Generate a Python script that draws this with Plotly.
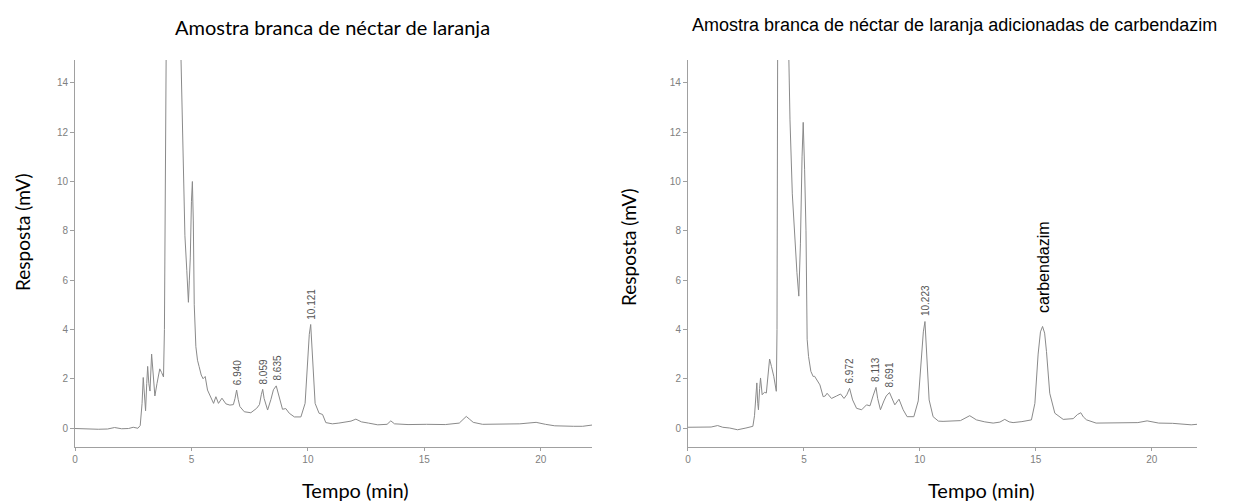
import plotly.graph_objects as go

# ---------------- data ----------------
# Left: blank orange nectar sample
t_blank = [0.0, 0.5, 1.0, 1.4, 1.7, 2.0, 2.3, 2.5, 2.7, 2.8,
           2.88, 2.93, 2.98, 3.03, 3.08, 3.12, 3.17, 3.22, 3.29, 3.36,
           3.43, 3.52, 3.64, 3.72, 3.80, 3.84, 3.88, 3.92, 4.20, 4.53,
           4.58, 4.64, 4.72, 4.80, 4.87, 4.91, 4.95, 5.00, 5.04, 5.08,
           5.12, 5.19, 5.26, 5.33, 5.42, 5.50, 5.59, 5.69, 5.84, 5.95,
           6.05, 6.16, 6.31, 6.48, 6.65, 6.80, 6.87, 6.94, 7.01, 7.08,
           7.27, 7.55, 7.80, 7.92, 8.00, 8.06, 8.12, 8.19, 8.27, 8.41,
           8.52, 8.64, 8.74, 8.91, 9.05, 9.20, 9.42, 9.70, 9.88, 9.98,
           10.06, 10.12, 10.20, 10.31, 10.48, 10.63, 10.77, 11.05, 11.33, 11.60,
           11.85, 12.06, 12.30, 12.60, 13.00, 13.40, 13.56, 13.72, 14.30, 15.10,
           15.90, 16.50, 16.65, 16.80, 16.95, 17.10, 17.50, 18.30, 19.10, 19.45,
           19.80, 20.20, 20.60, 21.40, 21.80, 22.20]
v_blank = [-0.02, -0.05, -0.05, -0.04, 0.02, -0.03, -0.02, 0.03, -0.01, 0.10,
           1.00, 2.05, 1.20, 0.70, 1.80, 2.50, 1.80, 1.50, 3.00, 2.00,
           1.30, 1.80, 2.40, 2.25, 2.07, 4.00, 9.00, 16.0, 30.0, 16.0,
           13.5, 10.5, 7.80, 6.40, 5.10, 6.00, 6.90, 9.20, 10.0, 8.40,
           5.00, 3.30, 2.75, 2.49, 2.15, 2.00, 2.09, 1.54, 1.21, 1.00,
           1.27, 1.00, 1.21, 0.98, 0.93, 0.95, 1.20, 1.54, 1.15, 0.87,
           0.66, 0.62, 0.80, 0.95, 1.35, 1.57, 1.20, 0.95, 0.73, 1.15,
           1.55, 1.71, 1.33, 0.76, 0.79, 0.60, 0.45, 0.45, 1.00, 2.63,
           3.80, 4.20, 2.90, 1.00, 0.60, 0.55, 0.22, 0.17, 0.20, 0.23,
           0.28, 0.36, 0.25, 0.20, 0.13, 0.15, 0.29, 0.17, 0.14, 0.15,
           0.14, 0.20, 0.33, 0.47, 0.35, 0.23, 0.15, 0.15, 0.17, 0.20,
           0.23, 0.15, 0.09, 0.07, 0.07, 0.12]

# Right: blank sample spiked with carbendazim
t_spiked = [0.0, 0.6, 1.0, 1.28, 1.5, 1.8, 2.14, 2.5, 2.8, 2.87,
            2.93, 2.97, 3.01, 3.04, 3.09, 3.13, 3.20, 3.30, 3.38, 3.45,
            3.52, 3.60, 3.70, 3.81, 3.84, 3.87, 4.10, 4.33, 4.40, 4.50,
            4.61, 4.70, 4.78, 4.85, 4.92, 4.97, 5.03, 5.09, 5.14, 5.20,
            5.30, 5.40, 5.46, 5.60, 5.69, 5.83, 5.92, 6.00, 6.19, 6.41,
            6.58, 6.73, 6.85, 6.97, 7.05, 7.10, 7.27, 7.49, 7.70, 7.85,
            7.98, 8.11, 8.18, 8.30, 8.45, 8.55, 8.69, 8.80, 8.92, 9.10,
            9.28, 9.45, 9.74, 9.93, 10.05, 10.15, 10.22, 10.30, 10.40, 10.57,
            10.80, 11.00, 11.40, 11.75, 12.15, 12.44, 12.80, 13.16, 13.45, 13.66,
            13.85, 14.02, 14.40, 14.81, 14.96, 15.10, 15.20, 15.29, 15.38, 15.46,
            15.60, 15.82, 16.18, 16.61, 16.80, 16.94, 17.05, 17.19, 17.60, 17.90,
            18.50, 19.00, 19.40, 19.80, 20.30, 20.90, 21.30, 21.70, 21.95]
v_spiked = [0.03, 0.03, 0.04, 0.10, 0.03, 0.00, -0.07, 0.00, 0.07, 0.50,
            1.50, 1.83, 1.00, 0.74, 1.60, 2.03, 1.35, 1.45, 1.42, 2.10,
            2.80, 2.50, 2.10, 1.49, 4.00, 16.0, 35.0, 16.0, 12.5, 9.50,
            7.60, 6.30, 5.35, 7.50, 11.0, 12.4, 10.5, 8.00, 3.60, 2.90,
            2.30, 2.09, 2.10, 1.90, 1.75, 1.27, 1.30, 1.41, 1.20, 1.30,
            1.38, 1.20, 1.35, 1.61, 1.30, 1.14, 0.80, 0.74, 0.94, 0.90,
            1.30, 1.65, 1.20, 0.74, 1.10, 1.30, 1.44, 1.20, 0.94, 1.17,
            0.74, 0.46, 0.46, 1.10, 2.63, 3.90, 4.32, 2.80, 1.14, 0.46,
            0.28, 0.27, 0.28, 0.30, 0.50, 0.33, 0.25, 0.20, 0.24, 0.35,
            0.25, 0.22, 0.26, 0.33, 1.00, 3.00, 3.90, 4.12, 3.85, 3.10,
            1.41, 0.60, 0.35, 0.38, 0.55, 0.62, 0.45, 0.33, 0.20, 0.20,
            0.20, 0.21, 0.22, 0.29, 0.20, 0.19, 0.17, 0.13, 0.15]

# peak labels (retention times) and the response at their apex
blank_peak_labels = ["6.940", "8.059", "8.635", "10.121"]
blank_peak_heights = [1.54, 1.57, 1.71, 4.20]
spiked_peak_labels = ["6.972", "8.113", "8.691", "10.223"]
spiked_peak_heights = [1.61, 1.65, 1.44, 4.32]
analyte_name = "carbendazim"
analyte_time = 15.29
analyte_height = 4.12

titles = ["Amostra branca de néctar de laranja",
          "Amostra branca de néctar de laranja adicionadas de carbendazim"]
x_title = "Tempo (min)"
y_title = "Resposta (mV)"
y_ticks = [0, 2, 4, 6, 8, 10, 12, 14]
x_ticks = [0, 5, 10, 15, 20]

assert len(t_blank) == len(v_blank)
assert len(t_spiked) == len(v_spiked)

# ---------------- figure ----------------
LINE = "#8a8a8a"
fig = go.Figure()
fig.add_trace(go.Scatter(x=t_blank, y=v_blank, mode="lines",
                         line=dict(color=LINE, width=1), xaxis="x", yaxis="y",
                         showlegend=False, hoverinfo="skip"))
fig.add_trace(go.Scatter(x=t_spiked, y=v_spiked, mode="lines",
                         line=dict(color=LINE, width=1), xaxis="x2", yaxis="y2",
                         showlegend=False, hoverinfo="skip"))

tickfont = dict(family="Liberation Sans, Arial, sans-serif", size=10, color="#808080")
axis_common = dict(showgrid=False, zeroline=False, showline=True, linecolor="#a0a0a0",
                   linewidth=1, ticks="outside", tickcolor="#a0a0a0", tickfont=tickfont)

fig.update_layout(
    width=1234, height=502,
    margin=dict(l=75, r=37, t=60, b=55),
    paper_bgcolor="white", plot_bgcolor="white",
    xaxis=dict(domain=[0, 0.4608], range=[0, 22.2], tickvals=x_ticks, ticklen=3,
               anchor="y", **axis_common),
    yaxis=dict(domain=[0, 1], range=[-0.77, 14.93], tickvals=y_ticks, ticklen=4,
               anchor="x", **axis_common),
    xaxis2=dict(domain=[0.5463, 1.0], range=[0, 21.95], tickvals=x_ticks, ticklen=3,
                anchor="y2", **axis_common),
    yaxis2=dict(domain=[0, 1], range=[-0.77, 14.93], tickvals=y_ticks, ticklen=4,
                anchor="x2", **axis_common),
)

ann = []
label_font = dict(family="Liberation Sans, Arial, sans-serif", size=10, color="#555555")
for lab, h in zip(blank_peak_labels, blank_peak_heights):
    ann.append(dict(x=float(lab), y=h, xref="x", yref="y", text=lab, textangle=-90,
                    showarrow=False, xanchor="center", yanchor="bottom", yshift=3,
                    xshift=1, font=label_font))
for lab, h in zip(spiked_peak_labels, spiked_peak_heights):
    ann.append(dict(x=float(lab), y=h, xref="x2", yref="y2", text=lab, textangle=-90,
                    showarrow=False, xanchor="center", yanchor="bottom", yshift=3,
                    xshift=0, font=label_font))
ann.append(dict(x=analyte_time, y=analyte_height, xref="x2", yref="y2", text=analyte_name,
                textangle=-90, showarrow=False, xanchor="center", yanchor="bottom",
                yshift=3, xshift=1, bgcolor="white", borderpad=9,
                font=dict(family="Liberation Sans, Arial, sans-serif", size=16, color="black")))

# titles
ann.append(dict(x=0.2299, y=1.0853, xref="paper", yref="paper", text=titles[0],
                showarrow=False, xanchor="center", yanchor="middle",
                font=dict(family="Lato, sans-serif", size=20, color="black")))
ann.append(dict(x=0.7839, y=1.0904, xref="paper", yref="paper", text=titles[1],
                showarrow=False, xanchor="center", yanchor="middle",
                font=dict(family="Liberation Sans, Arial, sans-serif", size=18, color="black")))
for xc in (0.2504, 0.8075):
    ann.append(dict(x=xc, y=-0.111, xref="paper", yref="paper", text=x_title,
                    showarrow=False, xanchor="center", yanchor="middle",
                    font=dict(family="Lato, sans-serif", size=20, color="black")))
for xc, yc in ((-0.0463, 0.5556), (0.4938, 0.5168)):
    ann.append(dict(x=xc, y=yc, xref="paper", yref="paper", text=y_title, textangle=-90,
                    showarrow=False, xanchor="center", yanchor="middle",
                    font=dict(family="Lato, sans-serif", size=19, color="black")))

fig.update_layout(annotations=ann)
fig.write_html("out.html")
